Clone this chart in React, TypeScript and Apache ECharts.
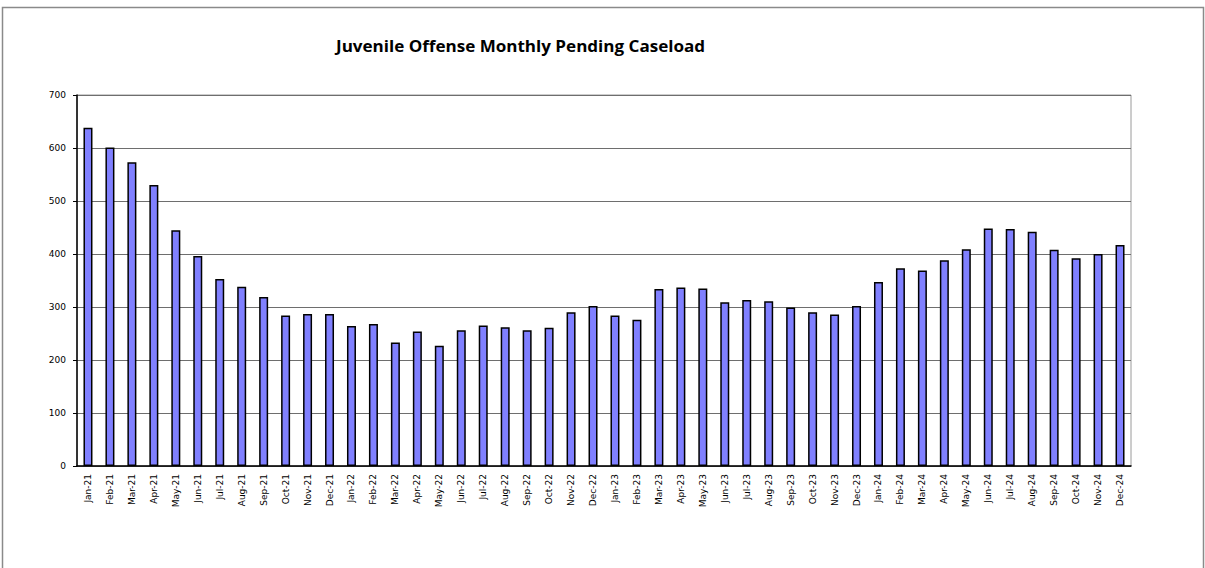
import React, { useEffect, useRef } from "react";
import * as echarts from "echarts";

const categories = [
  "Jan-21","Feb-21","Mar-21","Apr-21","May-21","Jun-21","Jul-21","Aug-21","Sep-21","Oct-21","Nov-21","Dec-21",
  "Jan-22","Feb-22","Mar-22","Apr-22","May-22","Jun-22","Jul-22","Aug-22","Sep-22","Oct-22","Nov-22","Dec-22",
  "Jan-23","Feb-23","Mar-23","Apr-23","May-23","Jun-23","Jul-23","Aug-23","Sep-23","Oct-23","Nov-23","Dec-23",
  "Jan-24","Feb-24","Mar-24","Apr-24","May-24","Jun-24","Jul-24","Aug-24","Sep-24","Oct-24","Nov-24","Dec-24",
];

const pendingCaseload = [
  638, 601, 573, 530, 445, 396, 353, 338, 319, 284, 287, 287,
  264, 268, 233, 254, 227, 256, 265, 262, 256, 261, 290, 302,
  284, 276, 334, 337, 335, 309, 313, 311, 299, 290, 286, 302,
  347, 373, 369, 388, 409, 448, 447, 442, 408, 392, 400, 417,
];

const yTicks = { min: 0, max: 700, interval: 100 };
const titleText = "Juvenile Offense Monthly Pending Caseload";

export default function App() {
  const ref = useRef<HTMLDivElement>(null);
  useEffect(() => {
    if (!ref.current) return;
    const chart = echarts.init(ref.current, null, { renderer: "svg" });
    chart.setOption({
      animation: false,
      backgroundColor: "#ffffff",
      graphic: [
        {
          type: "rect",
          shape: { x: 2.5, y: 7.5, width: 1201, height: 600 },
          style: { fill: "none", stroke: "#8a8a8a", lineWidth: 1.5 },
          silent: true,
        },
        {
          type: "text",
          x: 336,
          y: 46,
          scaleX: 1.1,
          style: {
            text: titleText,
            font: "bold 15.5px 'Open Sans'",
            fill: "#000",
            textAlign: "left",
            textVerticalAlign: "middle",
            verticalAlign: "middle",
          },
          silent: true,
        },
      ],
      grid: {
        left: 77,
        top: 95,
        right: 74,
        bottom: 102,
        show: true,
        borderColor: "#9a9a9a",
        borderWidth: 1,
        backgroundColor: "transparent",
      },
      xAxis: {
        type: "category",
        data: categories,
        boundaryGap: true,
        axisLine: { show: true, lineStyle: { color: "#000", width: 1.5 } },
        axisTick: { show: false },
        axisLabel: {
          rotate: 90,
          interval: 0,
          margin: 8,
          fontFamily: "DejaVu Sans",
          fontSize: 9,
          color: "#000",
        },
        splitLine: { show: false },
      },
      yAxis: {
        type: "value",
        min: yTicks.min,
        max: yTicks.max,
        interval: yTicks.interval,
        axisLine: { show: true, lineStyle: { color: "#000", width: 1.5 } },
        axisTick: { show: true, length: 4, inside: false, lineStyle: { color: "#000" } },
        axisLabel: {
          margin: 11,
          fontFamily: "DejaVu Sans",
          fontSize: 9,
          color: "#000",
        },
        splitLine: { show: true, lineStyle: { color: "#6e6e6e", width: 1.2 } },
      },
      series: [
        {
          type: "bar",
          data: pendingCaseload,
          barWidth: 9,
          itemStyle: {
            color: "#8080ff",
            borderColor: "#000",
            borderWidth: 1.5,
          },
        },
      ],
    });
    return () => chart.dispose();
  }, []);
  return (
    <div
      ref={ref}
      style={{ position: "fixed", left: 0, top: 0, width: 1205, height: 568 }}
    />
  );
}
